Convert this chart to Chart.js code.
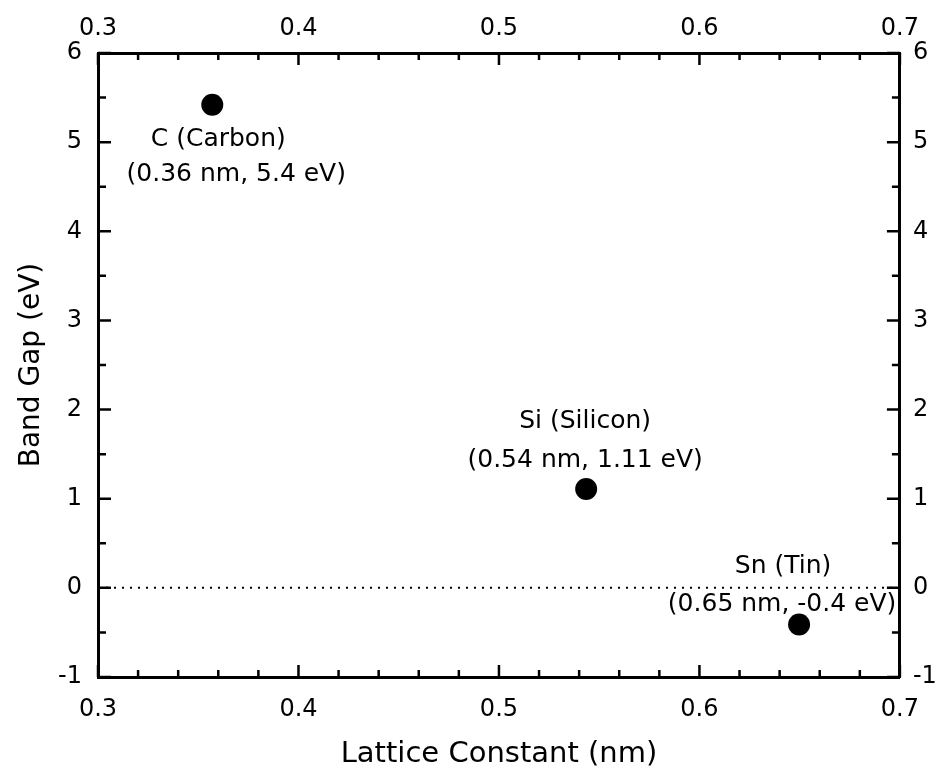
<!DOCTYPE html>
<html>
<head>
<meta charset="utf-8">
<script src="https://cdn.jsdelivr.net/npm/chart.js@4.4.0/dist/chart.umd.min.js"></script>
<style>
  body { margin: 0; background: #fff; }
  canvas { display: block; }
</style>
</head>
<body>
<canvas id="bandGapChart" width="937" height="772"></canvas>
<script>
// group IV elements
const elements = ["C (Carbon)", "Si (Silicon)", "Sn (Tin)"];
const coordLabels = ["(0.36 nm, 5.4 eV)", "(0.54 nm, 1.11 eV)", "(0.65 nm, -0.4 eV)"];
const latticeConstants = [0.357, 0.5435, 0.6497];
const bandGaps = [5.42, 1.11, -0.41];

// axes
const xRange = [0.3, 0.7];
const yRange = [-1, 6];
const xStep = 0.1;
const xMinorStep = 0.02;
const yStep = 1;
const yMinorStep = 0.5;

// dotted zero line
const zeroLineX = [0.3, 0.7];
const zeroLineY = [0, 0];

// where each text line sits relative to its dot (px)
const labelOffsets = [
  [[6, 35], [24, 70]],
  [[-1, -67], [-1, -28]],
  [[-16, -58], [-17, -20]]
];

Chart.defaults.font.family = "'DejaVu Sans', sans-serif";
Chart.defaults.color = "#000";

const innerTicks = {
  id: "innerTicks",
  afterDatasetsDraw(chart) {
    const ctx = chart.ctx;
    const area = chart.chartArea;
    const xs = chart.scales.x;
    const ys = chart.scales.y;
    ctx.save();
    ctx.strokeStyle = "#000";
    ctx.lineWidth = 2.5;
    ctx.beginPath();

    const nx = Math.round((xRange[1] - xRange[0]) / xMinorStep);
    const xEvery = Math.round(xStep / xMinorStep);
    for (let i = 0; i <= nx; i++) {
      const px = xs.getPixelForValue(xRange[0] + i * xMinorStep);
      const len = i % xEvery === 0 ? 12 : 7;
      ctx.moveTo(px, area.bottom);
      ctx.lineTo(px, area.bottom - len);
      ctx.moveTo(px, area.top);
      ctx.lineTo(px, area.top + len);
    }

    const ny = Math.round((yRange[1] - yRange[0]) / yMinorStep);
    const yEvery = Math.round(yStep / yMinorStep);
    for (let i = 0; i <= ny; i++) {
      const py = ys.getPixelForValue(yRange[0] + i * yMinorStep);
      const len = i % yEvery === 0 ? 13 : 8;
      ctx.moveTo(area.left, py);
      ctx.lineTo(area.left + len, py);
      ctx.moveTo(area.right, py);
      ctx.lineTo(area.right - len, py);
    }
    ctx.stroke();
    ctx.restore();
  }
};

const pointLabels = {
  id: "pointLabels",
  afterDatasetsDraw(chart) {
    const ctx = chart.ctx;
    const meta = chart.getDatasetMeta(0);
    ctx.save();
    ctx.fillStyle = "#000";
    ctx.font = "25px 'DejaVu Sans', sans-serif";
    ctx.textAlign = "center";
    ctx.textBaseline = "middle";
    meta.data.forEach((pt, i) => {
      const lines = [elements[i], coordLabels[i]];
      lines.forEach((txt, j) => {
        const off = labelOffsets[i][j];
        ctx.fillText(txt, pt.x + off[0], pt.y + off[1]);
      });
    });
    ctx.restore();
  }
};

const tickFont = { size: 24 };
const frame = { display: true, color: "#000", width: 3 };
const noGrid = { display: false, drawTicks: false };

new Chart(document.getElementById("bandGapChart"), {
  type: "scatter",
  data: {
    datasets: [
      {
        label: "Elements",
        data: latticeConstants.map((v, i) => ({ x: v, y: bandGaps[i] })),
        backgroundColor: "#000",
        borderWidth: 0,
        pointRadius: 11
      },
      {
        type: "line",
        label: "zero",
        data: zeroLineX.map((v, i) => ({ x: v, y: zeroLineY[i] })),
        borderColor: "#000",
        borderWidth: 2,
        borderDash: [2, 6],
        pointRadius: 0,
        fill: false
      }
    ]
  },
  options: {
    responsive: false,
    animation: false,
    plugins: {
      legend: { display: false },
      tooltip: { enabled: false }
    },
    scales: {
      x: {
        type: "linear",
        position: "bottom",
        min: xRange[0],
        max: xRange[1],
        grid: noGrid,
        border: frame,
        ticks: { stepSize: xStep, font: tickFont, padding: 18, callback: v => v.toFixed(1) },
        title: { display: true, text: "Lattice Constant (nm)", font: { size: 29 }, padding: 0 },
        afterFit: s => { s.height = 95; }
      },
      x2: {
        type: "linear",
        position: "top",
        min: xRange[0],
        max: xRange[1],
        grid: noGrid,
        border: frame,
        ticks: { stepSize: xStep, font: tickFont, padding: 10, callback: v => v.toFixed(1) },
        afterFit: s => { s.height = 53; }
      },
      y: {
        type: "linear",
        position: "left",
        min: yRange[0],
        max: yRange[1],
        grid: noGrid,
        border: frame,
        ticks: { stepSize: yStep, font: tickFont, padding: 16 },
        title: { display: true, text: "Band Gap (eV)", font: { size: 28 }, padding: { top: 15, bottom: 0 } },
        afterFit: s => { s.width = 98; }
      },
      y2: {
        type: "linear",
        position: "right",
        min: yRange[0],
        max: yRange[1],
        grid: noGrid,
        border: frame,
        ticks: { stepSize: yStep, font: tickFont, padding: 13 },
        afterFit: s => { s.width = 37; }
      }
    }
  },
  plugins: [innerTicks, pointLabels]
});
</script>
</body>
</html>
